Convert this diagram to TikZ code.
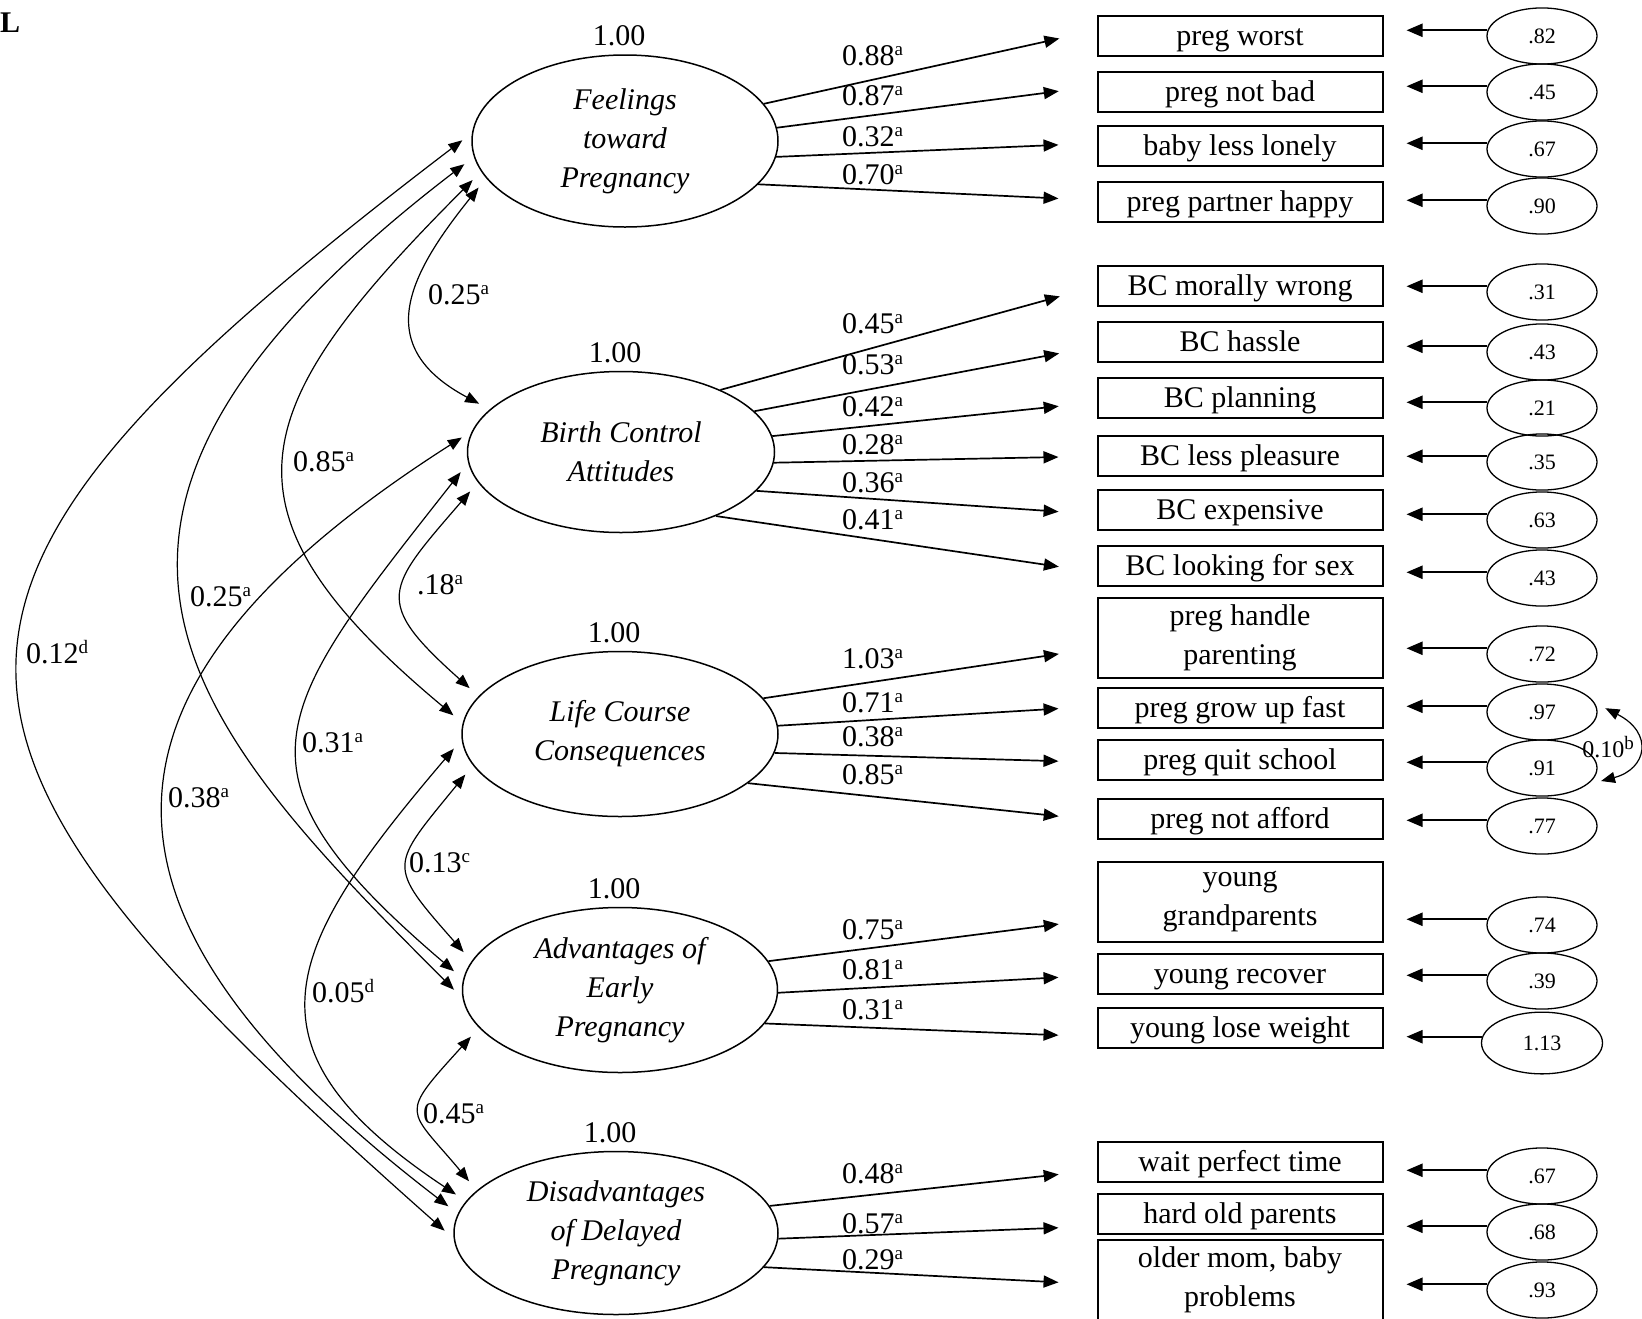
\documentclass[tikz,border=0pt]{standalone}
\usepackage{fontspec}
\setmainfont{Liberation Serif}
\usetikzlibrary{arrows.meta, positioning, shapes.geometric}

\newcommand{\sigsup}[1]{\raisebox{0.34em}{\fontsize{19}{19}\selectfont #1}}

\begin{document}
\begin{tikzpicture}[
    x=1pt, y=-1pt, font=\fontsize{30}{39}\selectfont,
    lat/.style={ellipse, draw, line width=1.5pt, inner sep=0pt, align=center,
        font=\fontsize{30}{39}\selectfont\itshape},
    ind/.style={rectangle, draw, line width=2pt, minimum width=285pt,
        minimum height=#1, inner sep=0pt, align=center,
        execute at begin node={\rule[-7pt]{0pt}{33pt}}},
    err/.style={ellipse, draw, line width=1.3pt, minimum width=#1,
        minimum height=0.51*#1, inner sep=0pt, font=\fontsize{22}{24}\selectfont},
    load/.style={-{Triangle[length=15pt, width=12pt]}, line width=1.7pt, shorten >=38pt},
    res/.style={-{Triangle[length=16pt, width=13pt]}, line width=2.2pt, shorten >=23pt},
    cov/.style={{Triangle[length=14pt, width=11pt]}-{Triangle[length=14pt, width=11pt]},
        line width=1.2pt, shorten <=12pt, shorten >=12pt},
    val/.style={inner sep=2pt, xshift=-6pt},
    coef/.style={anchor=west, inner sep=0pt},
]

\useasboundingbox (0,0) rectangle (1642,1318);

\def\bx{1240}   % centre of the indicator boxes
\def\ex{1542}   % centre of the residual ellipses
\def\kx{842}    % left edge of the loading labels

% ===================== Figure tag =====================
\node[font=\fontsize{30}{39}\selectfont\bfseries, anchor=west, inner sep=0pt] (tag) at (0,23) {L};

% ===================== Latent factors =====================
\node[lat, minimum width=306pt, minimum height=172pt] (fp) at (625,141) {Feelings\\toward\\Pregnancy};
\node[lat, minimum width=307pt, minimum height=161pt] (bc) at (621,452) {Birth Control\\Attitudes};
\node[lat, minimum width=316pt, minimum height=165pt] (lc) at (620,734) {Life Course\\Consequences};
\node[lat, minimum width=315pt, minimum height=165pt] (ae) at (620,990) {Advantages of\\Early\\Pregnancy};
\node[lat, minimum width=324pt, minimum height=163pt] (dd) at (616,1233) {Disadvantages\\of Delayed\\Pregnancy};

% fixed variances
\node[val, above=6pt of fp] (fpv) {1.00};
\node[val, above=6pt of bc] (bcv) {1.00};
\node[val, above=6pt of lc] (lcv) {1.00};
\node[val, above=6pt of ae] (aev) {1.00};
\node[val, above=6pt of dd] (ddv) {1.00};

% ===================== Indicators and residuals =====================
\foreach \k/\ny/\nh/\ey/\ew/\ev/\txt in {
    1/36/40/36/110/.82/{preg worst},
    2/92/40/92/110/.45/{preg not bad},
    3/146/40/149/110/.67/{baby less lonely},
    4/202/40/206/110/.90/{preg partner happy},
    5/286/40/292/110/.31/{BC morally wrong},
    6/342/40/352/110/.43/{BC hassle},
    7/398/40/408/110/.21/{BC planning},
    8/456/40/462/110/.35/{BC less pleasure},
    9/510/40/520/110/.63/{BC expensive},
    10/566/40/578/110/.43/{BC looking for sex},
    11/638/80/654/110/.72/{preg handle\\parenting},
    12/708/40/712/110/.97/{preg grow up fast},
    13/760/40/768/110/.91/{preg quit school},
    14/819/40/826/110/.77/{preg not afford},
    15/902/80/925/110/.74/{young\\grandparents},
    16/974/40/981/110/.39/{young recover},
    17/1028/40/1043/121/1.13/{young lose weight},
    18/1162/40/1176/110/.67/{wait perfect time},
    19/1214/40/1232/110/.68/{hard old parents},
    20/1280/80/1290/110/.93/{older mom, baby\\problems}} {
    \node[ind=\nh] (w\k) at (\bx,\ny) {\txt};
    \node[err=\ew] (e\k) at (\ex,\ey) {\ev};
    \draw[res] (e\k.174) -- (e\k.174 -| w\k.east);
}

% ===================== Loadings =====================
\foreach \f/\a/\k/\lv/\ly in {
    fp/15/1/0.88/56, fp/5/2/0.87/96, fp/-6/3/0.32/137, fp/-18/4/0.70/175,
    bc/32/5/0.45/324, bc/17/6/0.53/365, bc/6/7/0.42/407,
    bc/-4/8/0.28/445, bc/-16/9/0.36/483, bc/-34/10/0.41/520,
    lc/14/11/1.03/659, lc/3/12/0.71/703, lc/-7/13/0.38/737, lc/-21/14/0.85/775,
    ae/11/15/0.75/930, ae/-1/16/0.81/970, ae/-13/17/0.31/1010,
    dd/10/18/0.48/1174, dd/-2/19/0.57/1224, dd/-13/20/0.29/1260} {
    \draw[load] (\f.\a) -- (w\k.west |- e\k.174);
    \node[coef] (k\k) at (\kx,\ly) {\lv\sigsup{a}};
}

% ===================== Factor covariances =====================
\draw[cov] (fp.195) .. controls (406,278) and (373,347) .. (bc.162);
\draw[cov] (fp.192) .. controls (244,409) and (207,510) .. (lc.176);
\draw[cov] (fp.186) .. controls (0,520) and (184,720) .. (ae.183);
\draw[cov] (fp.177) .. controls (-133,594) and (-120,731) .. (dd.182);
\draw[cov] (bc.192) .. controls (386,589) and (372,601) .. (lc.165);
\draw[cov] (bc.184) .. controls (272,712) and (219,771) .. (ae.176);
\draw[cov] (bc.172) .. controls (63,692) and (71,917) .. (dd.173);
\draw[cov] (lc.192) .. controls (390,867) and (386,864) .. (ae.169);
\draw[cov] (lc.182) .. controls (284,948) and (234,1047) .. (dd.168);
\draw[cov] (ae.195) .. controls (398,1117) and (407,1107) .. (dd.163);

\node[coef] (c1) at (428,295) {0.25\sigsup{a}};
\node[coef] (c2) at (293,462) {0.85\sigsup{a}};
\node[coef] (c3) at (190,597) {0.25\sigsup{a}};
\node[coef] (c4) at (26,652) {0.12\sigsup{d}};
\node[coef] (c5) at (417,585) {.18\sigsup{a}};
\node[coef] (c6) at (302,743) {0.31\sigsup{a}};
\node[coef] (c7) at (168,798) {0.38\sigsup{a}};
\node[coef] (c8) at (409,863) {0.13\sigsup{c}};
\node[coef] (c9) at (312,991) {0.05\sigsup{d}};
\node[coef] (c10) at (423,1114) {0.45\sigsup{a}};

% ===================== Residual covariance =====================
\draw[cov, shorten >=14pt] (e12.10) .. controls (1654,733) and (1647,769) .. (e13.-20);
\node[font=\fontsize{24}{24}\selectfont, inner sep=0pt] (c11) at (1608,747) {0.10\sigsup{b}};

\end{tikzpicture}
\end{document}
